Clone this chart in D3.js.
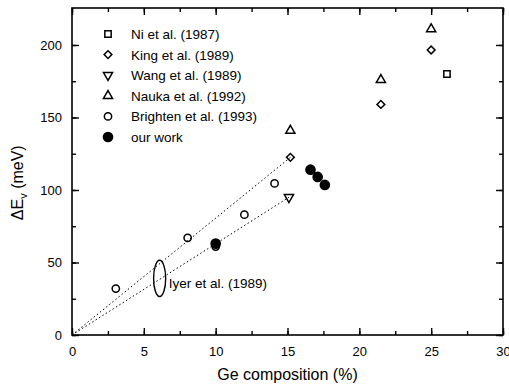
<!DOCTYPE html>
<html><head><meta charset="utf-8">
<script src="https://cdn.jsdelivr.net/npm/d3@7"></script>
<style>body{margin:0;background:#fff}svg{display:block}text{font-family:"Liberation Sans",Arial,sans-serif;fill:#000}</style>
</head><body>
<script>
const xTicks = [0,5,10,15,20,25,30];
const yTicks = [0,50,100,150,200];
const seriesNames = ["Ni et al. (1987)","King et al. (1989)","Wang et al. (1989)","Nauka et al. (1992)","Brighten et al. (1993)","our work"];
const niData = [[26.1,180]];
const kingData = [[15.2,122.5],[21.5,159],[25,196.5]];
const wangData = [[15.1,95]];
const naukaData = [[15.2,141],[21.5,176],[25,211]];
const brightenData = [[3.05,32],[8.05,67],[10,61],[12,83],[14.1,104.5]];
const ourData = [[10,63],[16.6,114],[17.1,109],[17.6,103.5]];
const iyerUpper = [[0,0],[15.2,122.5]];
const iyerLower = [[0,0],[15.1,95]];
const iyerEllipse = {x:6.1, y:39, rx:0.42, ry:12.5};
const iyerLabel = "Iyer et al. (1989)";

const W=509,H=388;
const m={l:72,r:6,t:8,b:53};
const svg=d3.select("body").append("svg").attr("width",W).attr("height",H);
const x=d3.scaleLinear().domain([0,30]).range([m.l,W-m.r]);
const y=d3.scaleLinear().domain([0,225.5]).range([H-m.b,m.t]);

const g=svg.append("g");
g.append("rect").attr("x",x(0)).attr("y",y(225.5)).attr("width",x(30)-x(0)).attr("height",y(0)-y(225.5))
 .attr("fill","none").attr("stroke","#000").attr("stroke-width",1.6);

const minorX=d3.range(0,30.01,2.5), minorY=d3.range(0,225,25);
svg.append("g").attr("transform",`translate(0,${y(0)})`)
 .call(d3.axisBottom(x).tickValues(minorX).tickSize(-4).tickFormat(""));
svg.append("g").attr("transform",`translate(0,${y(0)})`)
 .call(d3.axisBottom(x).tickValues(xTicks).tickSize(-7).tickPadding(12).tickFormat(d3.format("d")));
svg.append("g").attr("transform",`translate(0,${y(225.5)})`)
 .call(d3.axisTop(x).tickValues(minorX).tickSize(-4).tickFormat(""));
svg.append("g").attr("transform",`translate(0,${y(225.5)})`)
 .call(d3.axisTop(x).tickValues(xTicks).tickSize(-7).tickFormat(""));
svg.append("g").attr("transform",`translate(${x(0)},0)`)
 .call(d3.axisLeft(y).tickValues(minorY).tickSize(-4).tickFormat(""));
svg.append("g").attr("transform",`translate(${x(0)},0)`)
 .call(d3.axisLeft(y).tickValues(yTicks).tickSize(-7).tickPadding(10).tickFormat(d3.format("d")));
svg.append("g").attr("transform",`translate(${x(30)},0)`)
 .call(d3.axisRight(y).tickValues(minorY).tickSize(-4).tickFormat(""));
svg.append("g").attr("transform",`translate(${x(30)},0)`)
 .call(d3.axisRight(y).tickValues(yTicks).tickSize(-7).tickFormat(""));
svg.selectAll(".domain").remove();
svg.selectAll(".tick line").attr("stroke","#000").attr("stroke-width",1.4);
svg.selectAll(".tick text").attr("font-size",13).attr("fill","#000").style("font-family",'"Liberation Sans",Arial,sans-serif');

const line=d3.line().x(d=>x(d[0])).y(d=>y(d[1]));
[iyerUpper,iyerLower].forEach(l=>svg.append("path").attr("d",line(l)).attr("fill","none")
 .attr("stroke","#000").attr("stroke-width",1).attr("stroke-dasharray","1.5,2.5"));
svg.append("ellipse").attr("cx",x(iyerEllipse.x)).attr("cy",y(iyerEllipse.y))
 .attr("rx",x(iyerEllipse.rx)-x(0)).attr("ry",y(0)-y(iyerEllipse.ry))
 .attr("fill","none").attr("stroke","#000").attr("stroke-width",1.4);
svg.append("text").attr("x",x(iyerEllipse.x)+9).attr("y",y(iyerEllipse.y)+10)
 .attr("font-size",13.5).text(iyerLabel);

const sym={
 square:d3.symbol().type(d3.symbolSquare).size(40),
 diamond:d3.symbol().type(d3.symbolSquare).size(30),
 tri:d3.symbol().type(d3.symbolTriangle).size(36),
 circle:d3.symbol().type(d3.symbolCircle).size(42),
 fcircle:d3.symbol().type(d3.symbolCircle).size(66)
};
const series=[
 {data:niData,s:"square",rot:0,fill:"none"},
 {data:kingData,s:"diamond",rot:45,fill:"none"},
 {data:wangData,s:"tri",rot:180,fill:"none"},
 {data:naukaData,s:"tri",rot:0,fill:"none"},
 {data:brightenData,s:"circle",rot:0,fill:"none"},
 {data:ourData,s:"fcircle",rot:0,fill:"#000"}
];
series.forEach(se=>{
 svg.append("g").selectAll("path").data(se.data).join("path")
  .attr("d",sym[se.s]())
  .attr("transform",d=>`translate(${x(d[0])},${y(d[1])}) rotate(${se.rot})`)
  .attr("fill",se.fill).attr("stroke","#000").attr("stroke-width",1.5);
});

const lg=svg.append("g");
seriesNames.forEach((n,i)=>{
 const yy=34+i*20.6;
 const se=series[i];
 lg.append("path").attr("d",sym[se.s]()).attr("transform",`translate(108,${yy}) rotate(${se.rot})`)
  .attr("fill",se.fill).attr("stroke","#000").attr("stroke-width",1.5);
 lg.append("text").attr("x",131).attr("y",yy+5).attr("font-size",13.5).text(n);
});

svg.append("text").attr("x",(x(0)+x(30))/2).attr("y",380).attr("text-anchor","middle")
 .attr("font-size",16).text("Ge composition (%)");
const yl=svg.append("text").attr("transform",`translate(23,${y(105)}) rotate(-90)`)
 .attr("text-anchor","middle").attr("font-size",16);
yl.append("tspan").text("ΔE");
yl.append("tspan").attr("font-size",11).attr("dy",4).text("v");
yl.append("tspan").attr("dy",-4).text(" (meV)");
</script>
</body></html>
